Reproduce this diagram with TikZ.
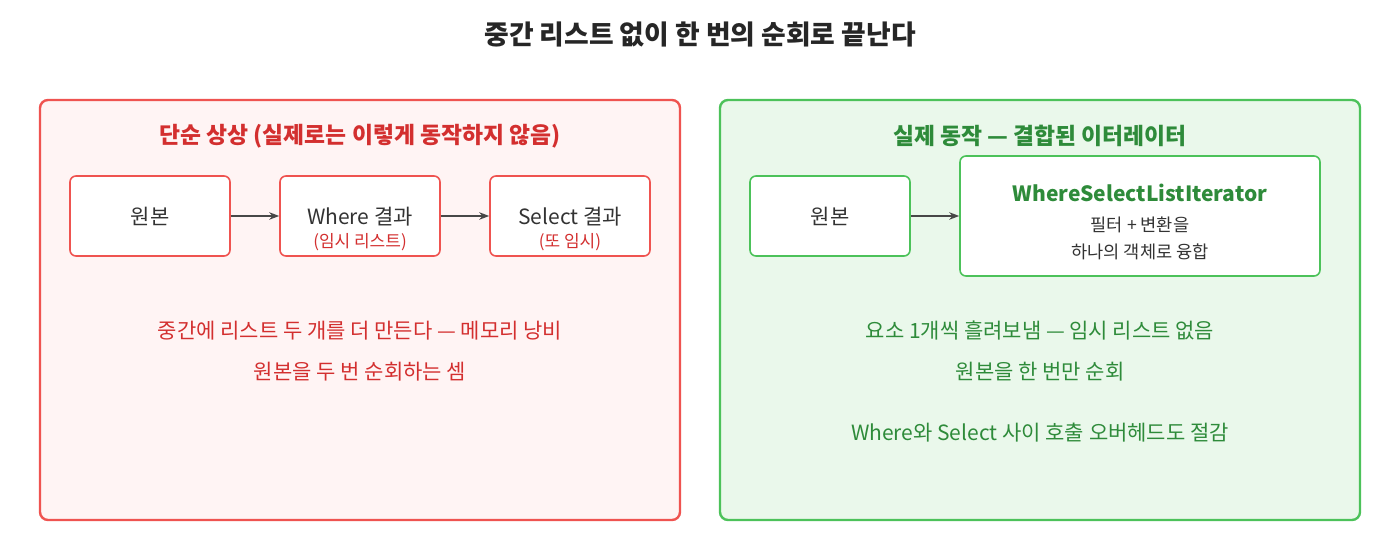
\documentclass[tikz,border=0pt]{standalone}
\usepackage{fontspec}
\setmainfont{Noto Sans CJK KR}
\usetikzlibrary{arrows.meta}
\definecolor{BadLine}{HTML}{EF5350}
\definecolor{BadFill}{HTML}{FFF4F4}
\definecolor{BadText}{HTML}{D32F2F}
\definecolor{GoodLine}{HTML}{4CC25A}
\definecolor{GoodFill}{HTML}{EAF8EB}
\definecolor{GoodText}{HTML}{2E8B3A}
\definecolor{Ink}{HTML}{333333}
\begin{document}
\begin{tikzpicture}[x=0.5pt, y=-0.5pt,
  panel/.style={rounded corners=4pt, line width=1.2pt},
  stepbox/.style={draw, fill=white, rounded corners=3pt, line width=0.8pt, minimum width=80pt, minimum height=40pt, align=center, text=Ink, font=\fontsize{10.5}{12}\selectfont},
  flow/.style={-{Stealth[length=5pt]}, line width=0.8pt, color=Ink!90},
  note/.style={font=\fontsize{10.5}{12}\selectfont}]

 \useasboundingbox (0,0) rectangle (1400,560);

 %%%%%%%%%% Title %%%%%%%%%%
 \node[font=\bfseries\fontsize{13.4}{15}\selectfont, text=black!85] (title) at (700,34) {중간 리스트 없이 한 번의 순회로 끝난다};

 %%%%%%%%%% Left panel %%%%%%%%%%
 \draw[panel, draw=BadLine, fill=BadFill] (40,100) rectangle (680,520);
 \node[font=\bfseries\fontsize{11.4}{13}\selectfont, text=BadText] (badtitle) at (360,136) {단순 상상 (실제로는 이렇게 동작하지 않음)};
 \node[stepbox, draw=BadLine] (src) at (150,216) {원본};
 \node[stepbox, draw=BadLine] (where) at (360,216) {};
 \node[stepbox, draw=BadLine] (select) at (570,216) {};
 \node[text=Ink, font=\fontsize{10.5}{12}\selectfont] (wherelbl) at (360,217) {Where 결과};
 \node[text=BadText, font=\fontsize{8.5}{10}\selectfont] (wherenote) at (360,242) {(임시 리스트)};
 \node[text=Ink, font=\fontsize{10.5}{12}\selectfont] (selectlbl) at (570,217) {Select 결과};
 \node[text=BadText, font=\fontsize{8.5}{10}\selectfont] (selectnote) at (570,242) {(또 임시)};
 \draw[flow] (src) -- (where);
 \draw[flow] (where) -- (select);
 \node[note, text=BadText] (bad1) at (360,331) {중간에 리스트 두 개를 더 만든다 — 메모리 낭비};
 \node[note, text=BadText] (bad2) at (360,372) {원본을 두 번 순회하는 셈};

 %%%%%%%%%% Right panel %%%%%%%%%%
 \draw[panel, draw=GoodLine, fill=GoodFill] (720,100) rectangle (1360,520);
 \node[font=\bfseries\fontsize{11.4}{13}\selectfont, text=GoodText] (goodtitle) at (1040,136) {실제 동작 — 결합된 이터레이터};
 \node[stepbox, draw=GoodLine] (src2) at (830,216) {원본};
 \node[stepbox, draw=GoodLine, minimum width=180pt, minimum height=60pt] (iter) at (1140,216) {};
 \node[font=\bfseries\fontsize{10.5}{12}\selectfont, text=GoodText] (itername) at (1140,193) {WhereSelectListIterator};
 \node[font=\fontsize{8.8}{10}\selectfont, text=Ink] (iter1) at (1140,225) {필터 + 변환을};
 \node[font=\fontsize{8.8}{10}\selectfont, text=Ink] (iter2) at (1140,252) {하나의 객체로 융합};
 \draw[flow] (src2) -- (iter);
 \node[note, text=GoodText] (good1) at (1040,331) {요소 1개씩 흘려보냄 — 임시 리스트 없음};
 \node[note, text=GoodText] (good2) at (1040,372) {원본을 한 번만 순회};
 \node[note, text=GoodText] (good3) at (1040,433) {Where와 Select 사이 호출 오버헤드도 절감};

\end{tikzpicture}
\end{document}
